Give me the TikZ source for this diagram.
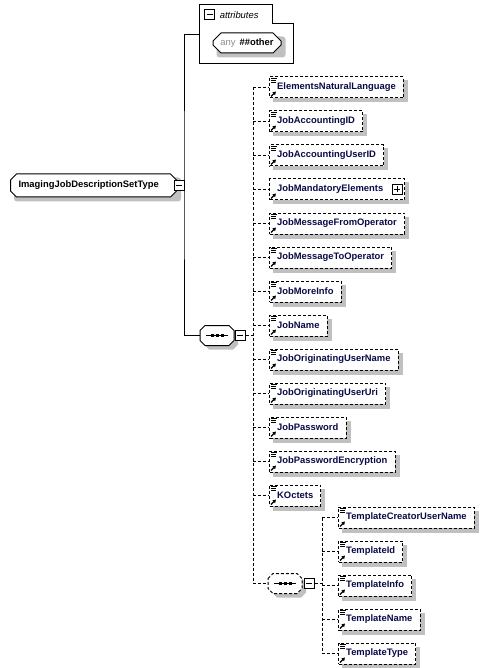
\documentclass[tikz,border=0pt]{standalone}
\usepackage{fontspec}
\setmainfont{Liberation Sans}
\usetikzlibrary{arrows.meta,positioning,shapes.misc,backgrounds,calc}
\definecolor{shadowgray}{RGB}{192,192,192}
\definecolor{elemblue}{RGB}{10,10,72}
\definecolor{anygray}{RGB}{140,140,140}

\tikzset{
  docicon/.pic={
    \draw[solid, line width=0.9pt] (2,2) -- (7.5,2) (2,4) -- (7,4) (2,6) -- (7,6);
  },
  reficon/.pic={
    \draw[solid, line width=1.2pt, -{Triangle[length=3.2pt,width=3.6pt]}] (2,-2) -- (7,-7);
  },
  seqshape/.pic={
    % shadow, moved 4 right and 4 down
    \fill[shadowgray] (-13,-1) -- (-8,-6) -- (16,-6) -- (21,-1) -- (21,9) -- (16,14) -- (-8,14) -- (-13,9) -- cycle;
    \draw[fill=white, pic actions] (-17,-5) -- (-12,-10) -- (12,-10) -- (17,-5) -- (17,5) -- (12,10) -- (-12,10) -- (-17,5) -- cycle;
    \draw[solid] (-11,0) -- (11,0);
    \foreach \dx in {-5,0,5} \fill (\dx-1.5,-1.5) rectangle (\dx+1.5,1.5);
  }
}

\begin{document}
\begin{tikzpicture}[x=1pt, y=-1pt, line width=1pt,
    every node/.style={font=\fontsize{9.4pt}{11pt}\selectfont},
    link/.style={dash pattern=on 3pt off 2pt},
    elem/.style={draw, link, fill=white, anchor=west, minimum height=21pt, inner xsep=7.7pt, inner ysep=0pt, text=elemblue, font=\fontsize{9.4pt}{11pt}\selectfont\bfseries},
    typebox/.style={draw, fill=white, chamfered rectangle, chamfered rectangle sep=3pt},
    seqbox/.style={minimum width=34pt, minimum height=20pt, inner sep=0pt},
    pmbox/.style={draw, solid, fill=white, minimum size=10pt, inner sep=0pt},
    minus/.style={pmbox, path picture={\draw ([xshift=2pt]path picture bounding box.west) -- ([xshift=-2pt]path picture bounding box.east);}},
    plus/.style={pmbox, path picture={\draw ([xshift=2pt]path picture bounding box.west) -- ([xshift=-2pt]path picture bounding box.east)
      ([yshift=-2pt]path picture bounding box.north) -- ([yshift=2pt]path picture bounding box.south);}}
  ]
  \useasboundingbox (0,0) rectangle (489,668);

  % type and its attributes
  \node[typebox, anchor=west, minimum height=23pt, text width=150pt, align=left, inner xsep=5pt, font=\fontsize{9.4pt}{11pt}\selectfont\bfseries] (root) at (10,185.5) {ImagingJobDescriptionSetType};
  \node[minus, xshift=2pt] (rootpm) at (root.east) {};

  \draw (199,5) -- (272,5) -- (272,24) -- (293,24) -- (293,64) -- (199,64) -- cycle;
  \node[minus] (attrpm) at (209.5,15) {};
  \node[anchor=west, font=\fontsize{9.4pt}{11pt}\selectfont\itshape] (attrlbl) at (216,15) {attributes};
  \node[typebox, chamfered rectangle sep=4pt, minimum width=68pt, minimum height=20pt, inner sep=0pt] (anyattr) at (247,43) {\textcolor{anygray}{any}\hspace{4pt}\textbf{\#\#other}};

  % sequences
  \node[seqbox] (seqmain) at (217,335.5) {};
  \pic at (seqmain.center) {seqshape};
  \node[minus, right=0pt of seqmain] (seqmainpm) {};
  \node[seqbox] (seqtmpl) at (285,583.5) {};
  \pic[link] at (seqtmpl.center) {seqshape};
  \node[minus, right=1pt of seqtmpl] (seqtmplpm) {};

  % elements
  \node[elem] (enl) at (269,87.5) {ElementsNaturalLanguage};
  \node[elem, below=12pt of enl.south west, anchor=north west] (jaid) {JobAccountingID};
  \node[elem, below=12pt of jaid.south west, anchor=north west] (jauid) {JobAccountingUserID};
  \node[elem, below=12pt of jauid.south west, anchor=north west] (jme) {JobMandatoryElements\hspace*{13.6pt}};
  \node[elem, below=12pt of jme.south west, anchor=north west] (jmfo) {JobMessageFromOperator};
  \node[elem, below=12pt of jmfo.south west, anchor=north west] (jmto) {JobMessageToOperator};
  \node[elem, below=12pt of jmto.south west, anchor=north west] (jmi) {JobMoreInfo};
  \node[elem, below=12pt of jmi.south west, anchor=north west] (jn) {JobName};
  \node[elem, below=12pt of jn.south west, anchor=north west] (joun) {JobOriginatingUserName};
  \node[elem, below=12pt of joun.south west, anchor=north west] (jouu) {JobOriginatingUserUri};
  \node[elem, below=12pt of jouu.south west, anchor=north west] (jpw) {JobPassword};
  \node[elem, below=12pt of jpw.south west, anchor=north west] (jpe) {JobPasswordEncryption};
  \node[elem, below=12pt of jpe.south west, anchor=north west] (koct) {KOctets};
  \node[plus] (jmepm) at ([xshift=-8pt]jme.east) {};

  \node[elem] (tcun) at (338,517.5) {TemplateCreatorUserName};
  \node[elem, below=12pt of tcun.south west, anchor=north west] (tid) {TemplateId};
  \node[elem, below=12pt of tid.south west, anchor=north west] (tinfo) {TemplateInfo};
  \node[elem, below=12pt of tinfo.south west, anchor=north west] (tname) {TemplateName};
  \node[elem, below=12pt of tname.south west, anchor=north west] (ttype) {TemplateType};

  % shadows
  \begin{scope}[on background layer]
    \foreach \n in {enl,jaid,jauid,jme,jmfo,jmto,jmi,jn,joun,jouu,jpw,jpe,koct,tcun,tid,tinfo,tname,ttype}
      \fill[shadowgray] ($(\n.west |- \n.north)+(4,4)$) rectangle ($(\n.east |- \n.south)+(4,4)$);
    \foreach \n in {root,anyattr}
      \fill[shadowgray, rounded corners=3pt] ($(\n.west |- \n.north)+(4,4)$) rectangle ($(\n.east |- \n.south)+(4,4)$);
  \end{scope}

  % connectors
  \coordinate (attrin) at (199,35);
  \coordinate (trunk) at (184,185.5);
  \draw (rootpm.east) -- (trunk);
  \draw (attrin) -| (trunk) |- (seqmain.west);

  \coordinate (spine) at (253,335.5);
  \draw[link] (seqmainpm.east) -- (spine);
  \draw[link] (spine |- enl.west) -- (spine |- seqtmpl.west);
  \foreach \n in {enl,jaid,jauid,jme,jmfo,jmto,jmi,jn,joun,jouu,jpw,jpe,koct,seqtmpl}
    \draw[link] (spine |- \n.west) -- (\n.west);

  \coordinate (tspine) at (322,583.5);
  \draw[link] (seqtmplpm.east) -- (tspine);
  \draw[link] (tspine |- tcun.west) -- (tspine |- ttype.west);
  \foreach \n in {tcun,tid,tinfo,tname,ttype}
    \draw[link] (tspine |- \n.west) -- (\n.west);

  % icons
  \foreach \n in {enl,jaid,jauid,jmfo,jmto,jmi,jn,joun,jouu,jpw,jpe,koct,tcun,tid,tinfo,tname,ttype}
    \pic at (\n.north west) {docicon};
  \foreach \n in {enl,jaid,jauid,jme,jmfo,jmto,jmi,jn,joun,jouu,jpw,jpe,koct,tcun,tid,tinfo,tname,ttype}
    \pic at (\n.south west) {reficon};
\end{tikzpicture}
\end{document}
